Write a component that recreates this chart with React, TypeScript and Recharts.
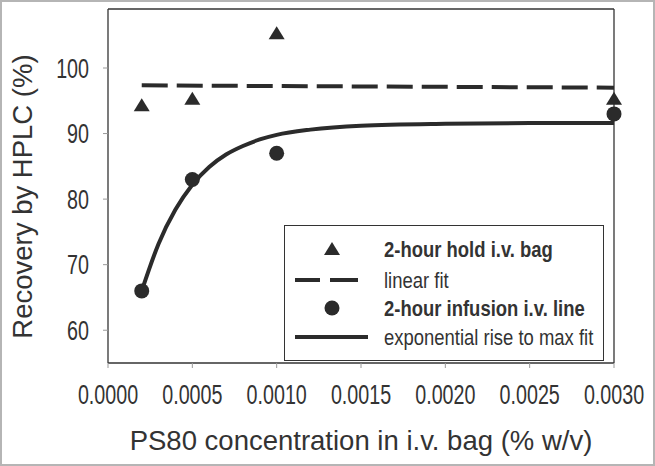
import React from "react";
import {
  ComposedChart,
  XAxis,
  YAxis,
  Scatter,
  Line,
  Legend,
  ReferenceLine,
} from "recharts";

// PS80 concentrations (% w/v)
const concentrations = [0.0002, 0.0005, 0.001, 0.003];
const holdBagRecovery = [94.3, 95.3, 105.3, 95.3];
const infusionLineRecovery = [66, 83, 87, 93];

const linearFitX = [0.0002, 0.003];
const linearFitY = [97.35, 97.0];

const expFitX = [
  0.0002, 0.0003, 0.0004, 0.0005, 0.0006, 0.0007, 0.0008, 0.0009, 0.001,
  0.0012, 0.0015, 0.002, 0.0025, 0.003,
];
const expFitY = [
  66, 73.2, 78.4, 82.2, 84.9, 86.8, 88.1, 89.1, 89.8, 90.6, 91.2, 91.5, 91.6,
  91.6,
];

const xTicks = [0, 0.0005, 0.001, 0.0015, 0.002, 0.0025, 0.003];
const yTicks = [60, 70, 80, 90, 100];

const legendLabels = [
  "2-hour hold i.v. bag",
  "linear fit",
  "2-hour infusion i.v. line",
  "exponential rise to max fit",
];

const INK = "#2b2b2b";
const SANS = "'Liberation Sans', Arial, sans-serif";

const toPoints = (xs: number[], ys: number[]) =>
  xs.map((x, i) => ({ x, y: ys[i] }));

const holdData = toPoints(concentrations, holdBagRecovery);
const infusionData = toPoints(concentrations, infusionLineRecovery);
const linearData = toPoints(linearFitX, linearFitY);
const expData = toPoints(expFitX, expFitY);

const Triangle = (props: any) => {
  const { cx, cy } = props;
  return (
    <polygon
      points={`${cx},${cy - 7} ${cx - 8},${cy + 6} ${cx + 8},${cy + 6}`}
      fill={INK}
    />
  );
};

const Dot = (props: any) => {
  const { cx, cy } = props;
  return <circle cx={cx} cy={cy} r={7.5} fill={INK} />;
};

// condensed tick labels (no narrow font installed, so squeeze horizontally)
const XTick = (props: any) => {
  const { x, y, payload } = props;
  return (
    <text
      transform={`translate(${x},${y}) scale(0.73,1)`}
      dy="0.71em"
      textAnchor="middle"
      fontFamily={SANS}
      fontSize={27}
      fill="#333"
    >
      {Number(payload.value).toFixed(4)}
    </text>
  );
};

const YTick = (props: any) => {
  const { x, y, payload } = props;
  return (
    <text
      transform={`translate(${x},${y}) scale(0.73,1)`}
      dy="0.355em"
      textAnchor="end"
      fontFamily={SANS}
      fontSize={27}
      fill="#333"
    >
      {payload.value}
    </text>
  );
};

const LegendBox = () => {
  const rows = [24, 55, 83, 112];
  const symbols = [
    <polygon key="t" points={`48,${rows[0] - 7} 40,${rows[0] + 6} 56,${rows[0] + 6}`} fill={INK} />,
    <g key="d">
      <line x1={11} y1={rows[1]} x2={36} y2={rows[1]} stroke={INK} strokeWidth={4} />
      <line x1={46} y1={rows[1]} x2={74} y2={rows[1]} stroke={INK} strokeWidth={4} />
    </g>,
    <circle key="c" cx={48} cy={rows[2]} r={7.5} fill={INK} />,
    <line key="s" x1={11} y1={rows[3]} x2={84} y2={rows[3]} stroke={INK} strokeWidth={4} />,
  ];
  return (
    <svg width={320} height={136} style={{ display: "block", background: "#fff" }}>
      <rect x={0.5} y={0.5} width={319} height={135} fill="#fff" stroke="#333" strokeWidth={1} />
      {symbols}
      {legendLabels.map((label, i) => (
        <text
          key={label}
          transform={`translate(100,${rows[i] + 8}) scale(0.84,1)`}
          fontFamily={SANS}
          fontSize={22}
          fontWeight={i % 2 === 0 ? 700 : 400}
          fill="#333"
        >
          {label}
        </text>
      ))}
    </svg>
  );
};

const YTitle = () => (
  <text
    transform="translate(32,196.5) rotate(-90)"
    textAnchor="middle"
    fontFamily={SANS}
    fontSize={27.5}
    fill="#333"
  >
    Recovery by HPLC (%)
  </text>
);

const XTitle = () => (
  <text x={361} y={450} textAnchor="middle" fontFamily={SANS} fontSize={27.5} fill="#333">
    PS80 concentration in i.v. bag (% w/v)
  </text>
);

export default function App() {
  return (
    <div style={{ position: "fixed", left: 0, top: 0, width: 655, height: 466, background: "#fff" }}>
      <ComposedChart
        width={655}
        height={466}
        margin={{ top: 9, right: 41, left: 0, bottom: 0 }}
      >
        <XAxis
          type="number"
          dataKey="x"
          domain={[0, 0.003]}
          ticks={xTicks}
          height={103}
          tickSize={5}
          tickMargin={17}
          axisLine={{ stroke: "#333", strokeWidth: 1.3 }}
          tickLine={{ stroke: "#999" }}
          tick={<XTick />}
          interval={0}
          label={<XTitle />}
        />
        <YAxis
          type="number"
          dataKey="y"
          domain={[55, 109]}
          ticks={yTicks}
          width={108}
          tickSize={5}
          tickMargin={14}
          axisLine={{ stroke: "#333", strokeWidth: 1.3 }}
          tickLine={{ stroke: "#999" }}
          tick={<YTick />}
          interval={0}
          label={<YTitle />}
        />
        <ReferenceLine y={109} stroke="#333" strokeWidth={1.3} />
        <ReferenceLine x={0.003} stroke="#333" strokeWidth={1.3} />
        <Line
          data={linearData}
          dataKey="y"
          type="linear"
          stroke={INK}
          strokeWidth={4}
          strokeDasharray="26 9"
          dot={false}
          activeDot={false}
          isAnimationActive={false}
        />
        <Line
          data={expData}
          dataKey="y"
          type="monotone"
          stroke={INK}
          strokeWidth={4}
          dot={false}
          activeDot={false}
          isAnimationActive={false}
        />
        <Scatter data={holdData} dataKey="y" shape={<Triangle />} isAnimationActive={false} />
        <Scatter data={infusionData} dataKey="y" shape={<Dot />} isAnimationActive={false} />
        <Legend
          layout="vertical"
          align="center"
          verticalAlign="middle"
          content={<LegendBox />}
          wrapperStyle={{ left: 284, top: 225, width: 320, height: 136 }}
        />
      </ComposedChart>
      <div
        style={{
          position: "absolute",
          inset: 0,
          border: "2px solid #b5b5b5",
          pointerEvents: "none",
        }}
      />
    </div>
  );
}
